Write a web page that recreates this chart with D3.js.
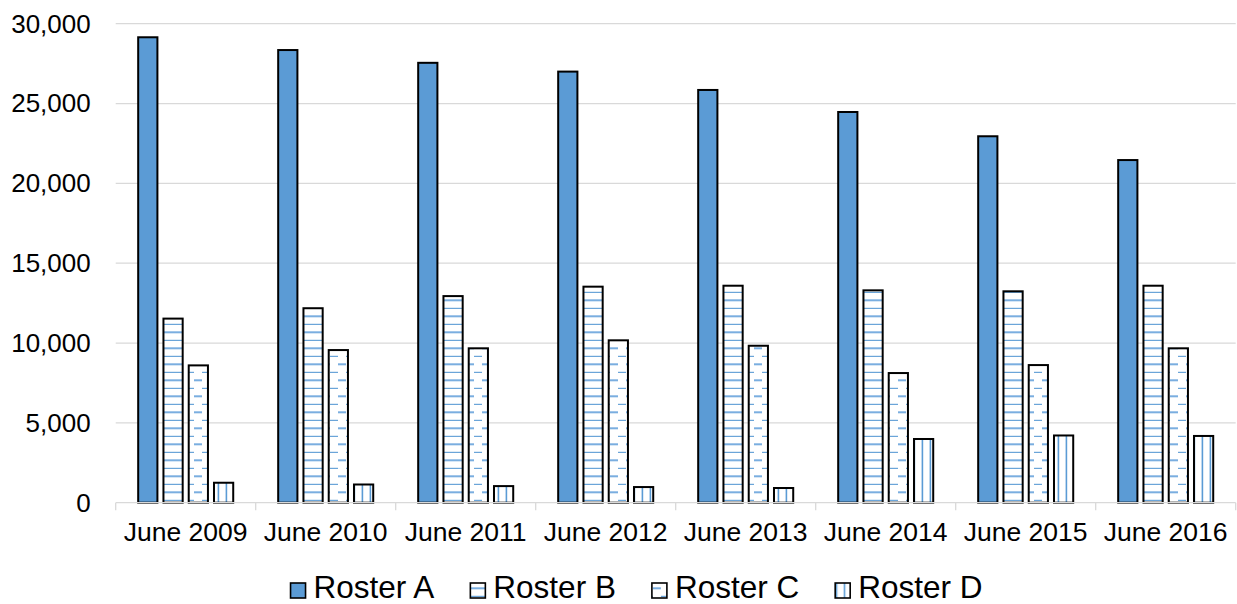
<!DOCTYPE html>
<html>
<head>
<meta charset="utf-8">
<script src="https://cdn.jsdelivr.net/npm/d3@7"></script>
<style>
  body { margin: 0; background: #fff; }
  text { font-family: "Liberation Sans", Arial, sans-serif; fill: #000; }
</style>
</head>
<body>
<svg id="chart" width="1237" height="604"></svg>
<script>
// Headcount per roster, each June
const categories = ["June 2009", "June 2010", "June 2011", "June 2012",
                    "June 2013", "June 2014", "June 2015", "June 2016"];
const seriesNames = ["Roster A", "Roster B", "Roster C", "Roster D"];
const rosterA = [29150, 28350, 27550, 27000, 25850, 24470, 22950, 21460];
const rosterB = [11530, 12180, 12940, 13530, 13590, 13300, 13240, 13590];
const rosterC = [8600, 9560, 9670, 10170, 9830, 8120, 8620, 9670];
const rosterD = [1250, 1140, 1040, 980, 920, 3990, 4210, 4180];
const yTicks = [0, 5000, 10000, 15000, 20000, 25000, 30000];

const seriesValues = [rosterA, rosterB, rosterC, rosterD];
const BLUE = "#5B9BD5";
const GRID = "#d9d9d9";

const svg = d3.select("#chart");
const plot = { left: 115.7, right: 1235.7, top: 23.7, bottom: 502.7 };

const x0 = d3.scaleBand().domain(categories).range([plot.left, plot.right]).padding(0);
const x1 = d3.scaleBand().domain(seriesNames).range([0, x0.bandwidth()])
  .paddingInner(0.16).paddingOuter(0.85);
const y = d3.scaleLinear().domain([0, 30000]).range([plot.bottom, plot.top]);

// ---- fill patterns (in chart coordinates so the hatching lines up across bars)
const defs = svg.append("defs");

const pB = defs.append("pattern").attr("id", "patB")
  .attr("patternUnits", "userSpaceOnUse").attr("width", 16).attr("height", 16);
pB.append("rect").attr("width", 16).attr("height", 16).attr("fill", "#fff");
pB.append("rect").attr("x", 0).attr("y", 11.3).attr("width", 16).attr("height", 2).attr("fill", "#7aaee0");
pB.append("rect").attr("x", 0).attr("y", 3.8).attr("width", 16).attr("height", 1.1).attr("fill", BLUE);

const pC = defs.append("pattern").attr("id", "patC")
  .attr("patternUnits", "userSpaceOnUse").attr("width", 16).attr("height", 16);
pC.append("rect").attr("width", 16).attr("height", 16).attr("fill", "#fff");
pC.append("rect").attr("x", 2).attr("y", 11.3).attr("width", 8).attr("height", 2).attr("fill", "#7aaee0");
pC.append("rect").attr("x", 10).attr("y", 3.8).attr("width", 6).attr("height", 1.1).attr("fill", BLUE);
pC.append("rect").attr("x", 0).attr("y", 3.8).attr("width", 2).attr("height", 1.1).attr("fill", BLUE);

const pD = defs.append("pattern").attr("id", "patD")
  .attr("patternUnits", "userSpaceOnUse").attr("width", 8).attr("height", 8);
pD.append("rect").attr("width", 8).attr("height", 8).attr("fill", "#fff");
pD.append("rect").attr("x", 1.6).attr("y", 0).attr("width", 1.6).attr("height", 8).attr("fill", BLUE);

const fills = [BLUE, "url(#patB)", "url(#patC)", "url(#patD)"];

// ---- gridlines
svg.append("g").selectAll("line").data(yTicks.filter(d => d > 0)).join("line")
  .attr("x1", plot.left).attr("x2", plot.right)
  .attr("y1", d => y(d)).attr("y2", d => y(d))
  .attr("stroke", GRID).attr("stroke-width", 1.3);

// ---- y axis labels
const yAxis = svg.append("g").attr("transform", `translate(${plot.left},0)`)
  .call(d3.axisLeft(y).tickValues(yTicks).tickFormat(d3.format(",")).tickSize(0).tickPadding(25));
yAxis.select(".domain").remove();
yAxis.selectAll("text").attr("font-size", 26).style("font-family", '"Liberation Sans", Arial, sans-serif').attr("fill", "#000");

// ---- bars
const groups = svg.append("g").selectAll("g").data(categories).join("g");
groups.selectAll("rect")
  .data((c, i) => seriesNames.map((s, k) => ({ cat: c, series: s, k, value: seriesValues[k][i] })))
  .join("rect")
  .attr("x", d => x0(d.cat) + x1(d.series) + 1)
  .attr("width", x1.bandwidth() - 2)
  .attr("y", d => y(d.value))
  .attr("height", d => y(0) - y(d.value))
  .attr("fill", d => fills[d.k])
  .attr("stroke", "#000").attr("stroke-width", 2);

// ---- x axis: baseline, category dividers, labels
const xAxis = svg.append("g").attr("transform", `translate(0,${plot.bottom})`);
xAxis.append("line").attr("x1", plot.left).attr("x2", plot.right)
  .attr("stroke", GRID).attr("stroke-width", 1.3);
const bounds = categories.map(c => x0(c)).concat([plot.right]);
xAxis.selectAll("line.div").data(bounds).join("line").attr("class", "div")
  .attr("x1", d => d).attr("x2", d => d).attr("y1", 0).attr("y2", 7.5)
  .attr("stroke", GRID).attr("stroke-width", 1.3);
xAxis.selectAll("text").data(categories).join("text")
  .attr("x", d => x0(d) + x0.bandwidth() / 2).attr("y", 38.5)
  .attr("text-anchor", "middle").attr("font-size", 26.5).text(d => d);

// ---- legend
const legend = svg.append("g");
const items = legend.selectAll("g").data(seriesNames).join("g");
items.append("rect").attr("x", 1).attr("y", 583).attr("width", 15).attr("height", 15)
  .attr("fill", (d, k) => fills[k]).attr("stroke", "#000").attr("stroke-width", 1.6);
items.append("text").attr("x", 24).attr("y", 597.5).attr("font-size", 31.5).text(d => d);
let offs = [], acc = 0;
items.each(function () {
  offs.push(acc);
  acc += 24 + this.querySelector("text").getComputedTextLength() + 35;
});
const total = acc - 35;
const start = 636 - total / 2;
items.attr("transform", (d, k) => `translate(${start + offs[k]},0)`);
</script>
</body>
</html>
